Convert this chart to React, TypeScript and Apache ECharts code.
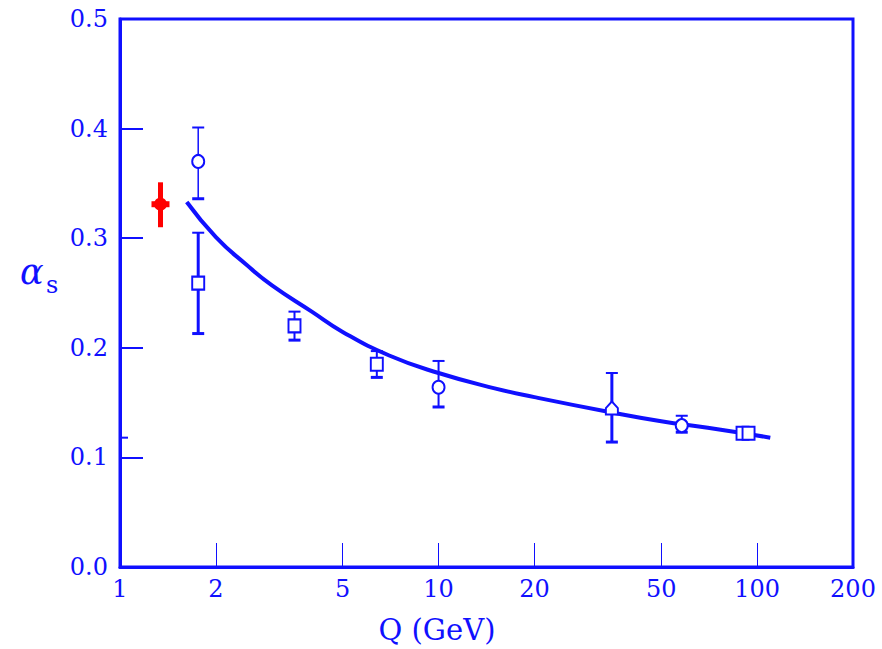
import React, { useEffect, useRef } from "react";
import * as echarts from "echarts";

const BLUE = "#1010ff";
const RED = "#ff0000";
const FONT = "DejaVu Serif";

const xTickValues = [1, 2, 5, 10, 20, 50, 100, 200];
const xInnerTicks = [2, 5, 10, 20, 50, 100];

// fitted running coupling curve
const fitQ = [1.62, 2, 2.5, 3, 4, 5, 7, 10, 15, 20, 35, 50, 70, 110];
const fitAlpha = [0.333, 0.301, 0.2755, 0.257, 0.233, 0.2145, 0.193, 0.177, 0.163, 0.155, 0.141, 0.133, 0.127, 0.118];

// measurements (blue, open markers)
const measQ = [1.76, 1.76, 3.53, 6.4, 10, 35, 58, 90, 94];
const measAlpha = [0.37, 0.259, 0.22, 0.185, 0.164, 0.145, 0.129, 0.122, 0.122];
const measLow = [0.336, 0.213, 0.207, 0.173, 0.146, 0.114, 0.123, 0.119, 0.119];
const measHigh = [0.401, 0.305, 0.233, 0.197, 0.188, 0.177, 0.138, 0.125, 0.125];
const measShape = ["circle", "rect", "rect", "rect", "circle", "path://M5,0 L10,5 L10,10 L0,10 L0,5 Z", "circle", "rect", "rect"];
const measBarWidth = [1.5, 3, 2, 2, 2, 3, 2, 1.5, 1.5];

// red highlighted measurement
const redQ = [1.34];
const redAlpha = [0.331];
const redLow = [0.31];
const redHigh = [0.351];

// small marker on the y axis
const yMarkValue = [0.118];

export default function App() {
  const ref = useRef<HTMLDivElement>(null);

  useEffect(() => {
    if (!ref.current) return;
    const chart = echarts.init(ref.current, undefined, { renderer: "svg" });

    const errData = measQ.map((q, i) => [q, measLow[i], measHigh[i], measBarWidth[i]]);
    const markerData = measQ.map((q, i) => ({
      value: [q, measAlpha[i]],
      symbol: measShape[i],
    }));
    const fitData = fitQ.map((q, i) => [q, fitAlpha[i]]);
    const redData = redQ.map((q, i) => [q, redAlpha[i], redLow[i], redHigh[i]]);

    const option: any = {
      animation: false,
      backgroundColor: "#ffffff",
      grid: {
        left: 120,
        right: 29,
        top: 19,
        bottom: 82,
        show: true,
        borderColor: BLUE,
        borderWidth: 3,
        backgroundColor: "transparent",
      },
      xAxis: {
        type: "log",
        logBase: 10,
        min: 1,
        max: 200,
        axisLine: { show: true, lineStyle: { color: BLUE, width: 3 } },
        axisTick: {
          show: true,
          inside: true,
          length: 24,
          customValues: xInnerTicks,
          lineStyle: { color: BLUE, width: 1 },
        },
        minorTick: { show: false },
        splitLine: { show: false },
        axisLabel: {
          customValues: xTickValues,
          color: BLUE,
          fontFamily: FONT,
          fontSize: 24,
          margin: 10,
          showMinLabel: true,
          showMaxLabel: true,
          formatter: (v: number) => String(Math.round(v)),
        },
      },
      yAxis: {
        type: "value",
        min: 0,
        max: 0.5,
        interval: 0.1,
        axisLine: { show: true, lineStyle: { color: BLUE, width: 3 } },
        axisTick: { show: true, inside: true, length: 23, lineStyle: { color: BLUE, width: 2 } },
        splitLine: { show: false },
        axisLabel: {
          color: BLUE,
          fontFamily: FONT,
          fontSize: 24,
          margin: 12,
          formatter: (v: number) => v.toFixed(1),
        },
      },
      graphic: [
        {
          type: "text",
          x: 20,
          y: 272,
          style: {
            text: "α",
            fill: BLUE,
            font: `italic 35px "${FONT}"`,
            textVerticalAlign: "middle",
          },
        },
        {
          type: "text",
          x: 46,
          y: 285,
          style: {
            text: "s",
            fill: BLUE,
            font: `24px "${FONT}"`,
            textVerticalAlign: "middle",
          },
        },
        {
          type: "text",
          x: 437,
          y: 630,
          style: {
            text: "Q (GeV)",
            fill: BLUE,
            font: `29px "${FONT}"`,
            textAlign: "center",
            textVerticalAlign: "middle",
          },
        },
      ],
      series: [
        {
          type: "line",
          data: fitData,
          smooth: 0.5,
          symbol: "none",
          lineStyle: { color: BLUE, width: 4 },
          z: 3,
        },
        {
          type: "custom",
          data: errData,
          z: 4,
          renderItem: (params: any, api: any) => {
            const x = api.value(0);
            const lo = api.value(1);
            const hi = api.value(2);
            const w = api.value(3);
            const pLo = api.coord([x, lo]);
            const pHi = api.coord([x, hi]);
            const cap = 6;
            return {
              type: "group",
              children: [
                {
                  type: "line",
                  shape: { x1: pLo[0], y1: pLo[1], x2: pHi[0], y2: pHi[1] },
                  style: { stroke: BLUE, lineWidth: w },
                },
                {
                  type: "line",
                  shape: { x1: pLo[0] - cap, y1: pLo[1], x2: pLo[0] + cap, y2: pLo[1] },
                  style: { stroke: BLUE, lineWidth: 3 },
                },
                {
                  type: "line",
                  shape: { x1: pHi[0] - cap, y1: pHi[1], x2: pHi[0] + cap, y2: pHi[1] },
                  style: { stroke: BLUE, lineWidth: 2 },
                },
              ],
            };
          },
        },
        {
          type: "scatter",
          data: markerData,
          symbolSize: [12, 13],
          itemStyle: { color: "#ffffff", borderColor: BLUE, borderWidth: 2, opacity: 1 },
          z: 5,
        },
        {
          type: "custom",
          data: redData,
          z: 6,
          renderItem: (params: any, api: any) => {
            const x = api.value(0);
            const c = api.coord([x, api.value(1)]);
            const pLo = api.coord([x, api.value(2)]);
            const pHi = api.coord([x, api.value(3)]);
            return {
              type: "group",
              children: [
                {
                  type: "line",
                  shape: { x1: pLo[0], y1: pLo[1], x2: pHi[0], y2: pHi[1] },
                  style: { stroke: RED, lineWidth: 5 },
                },
                {
                  type: "line",
                  shape: { x1: c[0] - 9, y1: c[1], x2: c[0] + 9, y2: c[1] },
                  style: { stroke: RED, lineWidth: 6 },
                },
                {
                  type: "circle",
                  shape: { cx: c[0], cy: c[1], r: 6.5 },
                  style: { fill: RED },
                },
              ],
            };
          },
        },
        {
          type: "custom",
          data: yMarkValue.map((v) => [1, v]),
          z: 6,
          renderItem: (params: any, api: any) => {
            const p = api.coord([api.value(0), api.value(1)]);
            return {
              type: "line",
              shape: { x1: p[0], y1: p[1], x2: p[0] + 8, y2: p[1] },
              style: { stroke: BLUE, lineWidth: 2 },
            };
          },
        },
      ],
    };

    chart.setOption(option);
    return () => chart.dispose();
  }, []);

  return (
    <div
      ref={ref}
      style={{ position: "fixed", left: 0, top: 0, width: 882, height: 649, background: "#fff" }}
    />
  );
}
